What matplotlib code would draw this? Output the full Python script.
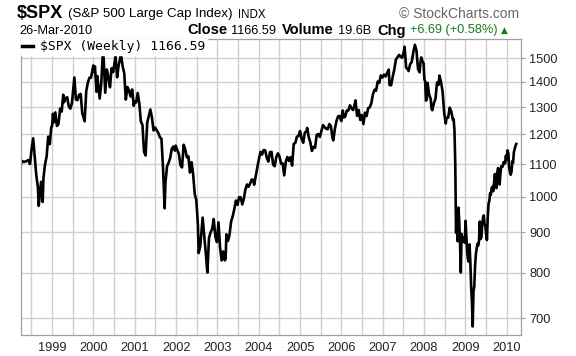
"""Weekly $SPX chart, 1998-2010, StockCharts style."""

import pandas as pd
import matplotlib
matplotlib.use("Agg")
import matplotlib.pyplot as plt
import matplotlib.dates as mdates
from matplotlib.ticker import FixedLocator, FixedFormatter, NullLocator

# (week ending, close)
SPX_1998 = [("1998-03-27", 1095), ("1998-04-09", 1110), ("1998-04-24", 1107), ("1998-05-08", 1108),
            ("1998-05-22", 1110), ("1998-06-05", 1113), ("1998-06-19", 1100), ("1998-07-02", 1146),
            ("1998-07-17", 1186), ("1998-07-31", 1121), ("1998-08-14", 1063), ("1998-08-28", 1027),
            ("1998-09-04", 973), ("1998-09-18", 1020), ("1998-09-25", 1044), ("1998-10-09", 984),
            ("1998-10-16", 1056), ("1998-10-30", 1099), ("1998-11-13", 1125), ("1998-11-27", 1192),
            ("1998-12-11", 1166), ("1998-12-24", 1226), ("1998-12-31", 1229)]
SPX_1999 = [("1999-01-08", 1275), ("1999-01-15", 1243), ("1999-01-29", 1280), ("1999-02-12", 1230),
            ("1999-02-26", 1238), ("1999-03-12", 1294), ("1999-03-26", 1283), ("1999-04-09", 1348),
            ("1999-04-16", 1319), ("1999-04-30", 1335), ("1999-05-14", 1338), ("1999-05-28", 1302),
            ("1999-06-11", 1294), ("1999-06-25", 1316), ("1999-07-16", 1418), ("1999-07-30", 1329),
            ("1999-08-13", 1327), ("1999-08-27", 1348), ("1999-09-10", 1351), ("1999-09-24", 1277),
            ("1999-10-15", 1247), ("1999-10-29", 1362), ("1999-11-12", 1396), ("1999-11-26", 1417),
            ("1999-12-10", 1417), ("1999-12-31", 1469)]
SPX_2000 = [("2000-01-07", 1441), ("2000-01-14", 1465), ("2000-01-28", 1360), ("2000-02-04", 1424),
            ("2000-02-25", 1333), ("2000-03-10", 1395), ("2000-03-24", 1527), ("2000-03-31", 1499),
            ("2000-04-14", 1356), ("2000-04-28", 1452), ("2000-05-12", 1420), ("2000-05-26", 1378),
            ("2000-06-09", 1457), ("2000-06-23", 1441), ("2000-07-14", 1509), ("2000-07-28", 1419),
            ("2000-08-11", 1471), ("2000-08-31", 1518), ("2000-09-15", 1465), ("2000-09-29", 1436),
            ("2000-10-13", 1329), ("2000-10-27", 1379), ("2000-11-10", 1365), ("2000-11-24", 1341),
            ("2000-12-08", 1369), ("2000-12-22", 1305), ("2000-12-29", 1320)]
SPX_2001 = [("2001-01-12", 1318), ("2001-01-26", 1355), ("2001-02-09", 1315), ("2001-02-23", 1246),
            ("2001-03-09", 1234), ("2001-03-23", 1140), ("2001-04-06", 1128), ("2001-04-20", 1242),
            ("2001-05-04", 1267), ("2001-05-18", 1291), ("2001-06-01", 1260), ("2001-06-15", 1214),
            ("2001-06-29", 1224), ("2001-07-13", 1215), ("2001-07-27", 1205), ("2001-08-10", 1190),
            ("2001-08-24", 1185), ("2001-09-07", 1085), ("2001-09-21", 966), ("2001-09-28", 1041),
            ("2001-10-12", 1092), ("2001-10-26", 1104), ("2001-11-09", 1120), ("2001-11-23", 1150),
            ("2001-12-07", 1158), ("2001-12-21", 1144), ("2001-12-28", 1161)]
SPX_2002 = [("2002-01-11", 1146), ("2002-01-25", 1133), ("2002-02-08", 1096), ("2002-02-22", 1089),
            ("2002-03-08", 1164), ("2002-03-22", 1149), ("2002-04-05", 1122), ("2002-04-19", 1125),
            ("2002-05-03", 1073), ("2002-05-17", 1106), ("2002-05-31", 1067), ("2002-06-14", 1007),
            ("2002-06-28", 990), ("2002-07-12", 921), ("2002-07-19", 847), ("2002-08-02", 865),
            ("2002-08-23", 940), ("2002-09-06", 893), ("2002-09-20", 846), ("2002-10-04", 800),
            ("2002-10-18", 885), ("2002-11-01", 900), ("2002-11-15", 909), ("2002-11-29", 936),
            ("2002-12-13", 889), ("2002-12-27", 875)]
SPX_2003 = [("2003-01-10", 927), ("2003-01-24", 861), ("2003-02-07", 829), ("2003-02-21", 851),
            ("2003-03-07", 829), ("2003-03-14", 833), ("2003-03-21", 895), ("2003-04-04", 878),
            ("2003-04-17", 893), ("2003-05-02", 930), ("2003-05-16", 944), ("2003-05-30", 964),
            ("2003-06-13", 988), ("2003-06-27", 976), ("2003-07-11", 998), ("2003-07-25", 998),
            ("2003-08-08", 977), ("2003-08-22", 993), ("2003-09-05", 1021), ("2003-09-19", 1036),
            ("2003-10-03", 1029), ("2003-10-17", 1039), ("2003-10-31", 1051), ("2003-11-14", 1050),
            ("2003-11-21", 1035), ("2003-12-05", 1061), ("2003-12-19", 1088), ("2003-12-31", 1112)]
SPX_2004 = [("2004-01-16", 1140), ("2004-01-30", 1131), ("2004-02-13", 1146), ("2004-02-27", 1145),
            ("2004-03-12", 1120), ("2004-03-26", 1108), ("2004-04-09", 1139), ("2004-04-23", 1140),
            ("2004-05-07", 1098), ("2004-05-21", 1093), ("2004-06-04", 1123), ("2004-06-18", 1135),
            ("2004-07-02", 1125), ("2004-07-16", 1101), ("2004-07-30", 1102), ("2004-08-13", 1064),
            ("2004-08-27", 1108), ("2004-09-10", 1123), ("2004-09-24", 1110), ("2004-10-08", 1122),
            ("2004-10-22", 1095), ("2004-11-05", 1167), ("2004-11-19", 1170), ("2004-12-03", 1192),
            ("2004-12-17", 1194), ("2004-12-31", 1212)]
SPX_2005 = [("2005-01-14", 1184), ("2005-01-28", 1171), ("2005-02-11", 1206), ("2005-02-25", 1211),
            ("2005-03-04", 1223), ("2005-03-18", 1190), ("2005-04-01", 1172), ("2005-04-15", 1143),
            ("2005-04-29", 1157), ("2005-05-13", 1154), ("2005-05-27", 1198), ("2005-06-10", 1201),
            ("2005-06-24", 1191), ("2005-07-08", 1212), ("2005-07-22", 1233), ("2005-08-05", 1226),
            ("2005-08-19", 1220), ("2005-09-02", 1218), ("2005-09-16", 1237), ("2005-09-30", 1229),
            ("2005-10-14", 1187), ("2005-10-21", 1179), ("2005-11-04", 1220), ("2005-11-18", 1248),
            ("2005-12-02", 1265), ("2005-12-16", 1267), ("2005-12-30", 1248)]
SPX_2006 = [("2006-01-13", 1287), ("2006-01-20", 1261), ("2006-02-03", 1264), ("2006-02-17", 1287),
            ("2006-03-03", 1287), ("2006-03-17", 1307), ("2006-03-31", 1295), ("2006-04-14", 1289),
            ("2006-04-28", 1311), ("2006-05-05", 1326), ("2006-05-19", 1267), ("2006-06-02", 1289),
            ("2006-06-16", 1252), ("2006-06-30", 1270), ("2006-07-14", 1237), ("2006-07-28", 1279),
            ("2006-08-11", 1266), ("2006-08-25", 1296), ("2006-09-08", 1299), ("2006-09-22", 1315),
            ("2006-10-06", 1349), ("2006-10-20", 1368), ("2006-11-03", 1364), ("2006-11-17", 1401),
            ("2006-12-01", 1396), ("2006-12-15", 1427), ("2006-12-29", 1418)]
SPX_2007 = [("2007-01-12", 1430), ("2007-01-26", 1422), ("2007-02-09", 1438), ("2007-02-23", 1451),
            ("2007-03-02", 1387), ("2007-03-16", 1386), ("2007-03-30", 1421), ("2007-04-13", 1452),
            ("2007-04-27", 1494), ("2007-05-11", 1505), ("2007-05-25", 1515), ("2007-06-08", 1507),
            ("2007-06-22", 1503), ("2007-07-06", 1530), ("2007-07-13", 1552), ("2007-07-27", 1459),
            ("2007-08-10", 1453), ("2007-08-17", 1445), ("2007-08-31", 1474), ("2007-09-14", 1484),
            ("2007-09-28", 1527), ("2007-10-12", 1561), ("2007-10-26", 1535), ("2007-11-09", 1453),
            ("2007-11-23", 1440), ("2007-11-30", 1481), ("2007-12-07", 1504), ("2007-12-21", 1484),
            ("2007-12-28", 1478)]
SPX_2008 = [("2008-01-04", 1411), ("2008-01-11", 1401), ("2008-01-18", 1325), ("2008-01-25", 1330),
            ("2008-02-01", 1396), ("2008-02-15", 1349), ("2008-02-29", 1331), ("2008-03-07", 1294),
            ("2008-03-14", 1288), ("2008-03-28", 1315), ("2008-04-11", 1332), ("2008-04-25", 1398),
            ("2008-05-09", 1388), ("2008-05-16", 1426), ("2008-05-30", 1400), ("2008-06-13", 1360),
            ("2008-06-27", 1278), ("2008-07-11", 1239), ("2008-07-18", 1260), ("2008-08-01", 1260),
            ("2008-08-15", 1298), ("2008-08-29", 1283), ("2008-09-12", 1252), ("2008-09-19", 1255),
            ("2008-09-26", 1213), ("2008-10-03", 1099), ("2008-10-10", 899), ("2008-10-17", 940),
            ("2008-10-24", 877), ("2008-10-31", 968), ("2008-11-07", 931), ("2008-11-14", 873),
            ("2008-11-21", 800), ("2008-11-28", 896), ("2008-12-05", 876), ("2008-12-12", 879),
            ("2008-12-19", 887), ("2008-12-26", 873)]
SPX_2009 = [("2009-01-02", 931), ("2009-01-09", 890), ("2009-01-16", 850), ("2009-01-23", 832),
            ("2009-01-30", 826), ("2009-02-06", 869), ("2009-02-13", 827), ("2009-02-20", 770),
            ("2009-02-27", 735), ("2009-03-06", 683), ("2009-03-13", 756), ("2009-03-20", 768),
            ("2009-03-27", 816), ("2009-04-03", 843), ("2009-04-09", 857), ("2009-04-17", 870),
            ("2009-04-24", 866), ("2009-05-01", 878), ("2009-05-08", 929), ("2009-05-15", 883),
            ("2009-05-22", 887), ("2009-05-29", 919), ("2009-06-05", 940), ("2009-06-12", 946),
            ("2009-06-19", 921), ("2009-06-26", 918), ("2009-07-02", 896), ("2009-07-10", 880),
            ("2009-07-17", 941), ("2009-07-24", 979), ("2009-07-31", 987), ("2009-08-07", 1010),
            ("2009-08-14", 1005), ("2009-08-21", 1026), ("2009-08-28", 1029), ("2009-09-04", 1016),
            ("2009-09-11", 1042), ("2009-09-18", 1068), ("2009-09-25", 1044), ("2009-10-02", 1025),
            ("2009-10-09", 1072), ("2009-10-16", 1087), ("2009-10-23", 1080), ("2009-10-30", 1036),
            ("2009-11-06", 1069), ("2009-11-13", 1093), ("2009-11-20", 1091), ("2009-11-27", 1092),
            ("2009-12-04", 1106), ("2009-12-11", 1106), ("2009-12-18", 1102), ("2009-12-24", 1127),
            ("2009-12-31", 1115)]
SPX_2010 = [("2010-01-08", 1145), ("2010-01-15", 1136), ("2010-01-22", 1091), ("2010-01-29", 1074),
            ("2010-02-05", 1066), ("2010-02-12", 1075), ("2010-02-19", 1109), ("2010-02-26", 1104),
            ("2010-03-05", 1139), ("2010-03-12", 1150), ("2010-03-19", 1160), ("2010-03-26", 1166.59)]

Y_TICKS = [700, 800, 900, 1000, 1100, 1200, 1300, 1400, 1500]

W, H = 576, 356
GRID = "#d0d0d0"
FRAME = "#a0a0a0"
GREEN = "#1a7a1a"


def fx(px):
    return px / W


def fy(py):
    return 1 - py / H


rows = SPX_1998 + SPX_1999 + SPX_2000 + SPX_2001 + SPX_2002 + SPX_2003 + SPX_2004 + \
    SPX_2005 + SPX_2006 + SPX_2007 + SPX_2008 + SPX_2009 + SPX_2010
df = pd.DataFrame(rows, columns=["date", "close"])
df["date"] = pd.to_datetime(df["date"])

fig = plt.figure(figsize=(W / 100, H / 100), dpi=100)
fig.patch.set_facecolor("white")
ax = fig.add_axes([fx(20.5), fy(335), fx(521) - fx(20.5), fy(38.5) - fy(335)])

ax.plot(df["date"], df["close"], color="black", lw=1.9, solid_joinstyle="round")

ax.set_yscale("log")
ax.set_ylim(666, 1590)
ax.set_xlim(pd.Timestamp("1998-03-27"), pd.Timestamp("2010-05-07"))

ax.yaxis.tick_right()
ax.yaxis.set_major_locator(FixedLocator(Y_TICKS))
ax.yaxis.set_major_formatter(FixedFormatter([str(v) for v in Y_TICKS]))
ax.yaxis.set_minor_locator(NullLocator())
ax.tick_params(axis="y", length=3, width=0.8, color=FRAME, pad=3,
               labelsize=9.2, labelcolor="#222222")

ax.xaxis.set_major_locator(mdates.YearLocator())
ax.xaxis.set_major_formatter(mdates.DateFormatter("%Y"))
ax.xaxis.set_minor_locator(mdates.MonthLocator(bymonth=7))
ax.tick_params(axis="x", which="both", length=0, pad=5, labelsize=9.2, labelcolor="#222222")

for lbl in ax.get_xticklabels() + ax.get_yticklabels():
    lbl.set_family("Liberation Sans")

ax.grid(True, which="both", axis="x", color=GRID, lw=1.0)
ax.grid(True, which="major", axis="y", color=GRID, lw=1.0)
ax.set_axisbelow(True)
for s in ax.spines.values():
    s.set_color(FRAME)
    s.set_linewidth(0.9)

# legend box in the top-left corner
leg = ax.legend([plt.Line2D([], [], color="black", lw=2.5)], [r"\$SPX (Weekly) 1166.59"],
                loc="upper left", bbox_to_anchor=(0.0, 1.0), frameon=True, fancybox=False,
                handlelength=0.8, handletextpad=0.55, borderpad=0.15, borderaxespad=0.0,
                prop={"family": "DejaVu Sans Mono", "size": 9.4})
leg.get_frame().set_facecolor("white")
leg.get_frame().set_edgecolor("white")
leg.get_frame().set_alpha(1.0)

# header, row 1
sans = "Liberation Sans"
fig.text(fx(17), fy(14), r"\$SPX", fontsize=13, fontweight="bold", family=sans, va="center")
fig.text(fx(68), fy(14.5), "(S&P 500 Large Cap Index)", fontsize=9.6, family=sans, va="center")
fig.text(fx(238), fy(15), "INDX", fontsize=8.3, family=sans, va="center")
fig.text(fx(519), fy(14.5), "\u00a9 StockCharts.com", fontsize=10, family=sans, va="center",
         ha="right", color="#666666")

# header, row 2: date on the left, then a chain of label/value pieces
fig.text(fx(19), fy(30.5), "26-Mar-2010", fontsize=9.2, family=sans, va="center")
row2 = [("Close", "bold", "black", 4),
        ("1166.59", "normal", "black", 6),
        ("Volume", "bold", "black", 4),
        ("19.6B", "normal", "black", 6),
        ("Chg", "bold", "black", 4),
        ("+6.69 (+0.58%)", "normal", GREEN, 4)]
renderer = fig.canvas.get_renderer()
x = 187.0
for txt, weight, col, gap in row2:
    t = fig.text(fx(x), fy(30.5), txt, fontsize=10.5 if weight == "bold" else 9.2,
                 fontweight=weight, family=sans, va="center", color=col)
    x += t.get_window_extent(renderer).width + gap
fig.text(fx(x), fy(30.5), "\u25b2", fontsize=6.5, family="DejaVu Sans", va="center", color=GREEN)

fig.savefig("out.png", dpi=100, facecolor="white")
